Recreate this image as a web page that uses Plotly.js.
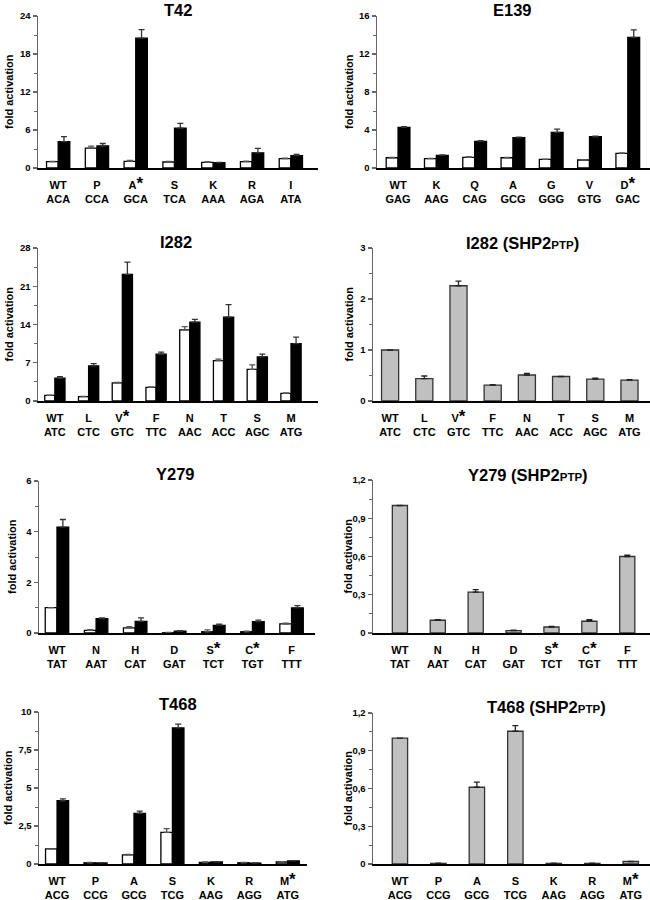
<!DOCTYPE html>
<html><head><meta charset="utf-8">
<script src="https://cdn.plot.ly/plotly-3.0.1.min.js"></script>
<style>html,body{margin:0;padding:0;background:#fff}#c{width:650px;height:900px}</style>
</head><body><div id="c"></div>
<script>
// ---- data ----
const t42Cats = ['WT','P','A*','S','K','R','I'];
const t42Codons = ['ACA','CCA','GCA','TCA','AAA','AGA','ATA'];
const t42White = [1.0, 3.15, 1.05, 0.95, 0.9, 1.0, 1.47];
const t42WhiteErr = [0.05, 0.3, 0.15, 0.1, 0.1, 0.1, 0.1];
const t42Black = [4.15, 3.47, 20.5, 6.3, 0.84, 2.4, 1.95];
const t42BlackErr = [0.8, 0.4, 1.35, 0.75, 0.05, 0.7, 0.2];

const e139Cats = ['WT','K','Q','A','G','V','D*'];
const e139Codons = ['GAG','AAG','CAG','GCG','GGG','GTG','GAC'];
const e139White = [1.08, 0.98, 1.12, 1.08, 0.91, 0.84, 1.54];
const e139WhiteErr = [0.03, 0.04, 0.08, 0.03, 0.03, 0.04, 0.06];
const e139Black = [4.27, 1.33, 2.8, 3.19, 3.75, 3.29, 13.76];
const e139BlackErr = [0.08, 0.05, 0.07, 0.05, 0.35, 0.05, 0.77];

const i282Cats = ['WT','L','V*','F','N','T','S','M'];
const i282Codons = ['ATC','CTC','GTC','TTC','AAC','ACC','AGC','ATG'];
const i282White = [1.04, 0.8, 3.3, 2.5, 13.0, 7.4, 5.8, 1.4];
const i282WhiteErr = [0.05, 0.05, 0.1, 0.1, 0.6, 0.25, 0.8, 0.1];
const i282Black = [4.16, 6.42, 23.17, 8.56, 14.43, 15.34, 8.07, 10.5];
const i282BlackErr = [0.3, 0.43, 2.26, 0.37, 0.5, 2.3, 0.5, 1.2];

const i282PtpValues = [1.0, 0.44, 2.26, 0.31, 0.51, 0.48, 0.43, 0.41];
const i282PtpErr = [0.0, 0.05, 0.09, 0.01, 0.03, 0.0, 0.02, 0.01];

const y279Cats = ['WT','N','H','D','S*','C*','F'];
const y279Codons = ['TAT','AAT','CAT','GAT','TCT','TGT','TTT'];
const y279White = [1.0, 0.1, 0.2, 0.01, 0.05, 0.05, 0.36];
const y279WhiteErr = [0.0, 0.03, 0.05, 0.01, 0.07, 0.02, 0.03];
const y279Black = [4.18, 0.57, 0.46, 0.07, 0.3, 0.45, 0.99];
const y279BlackErr = [0.3, 0.03, 0.14, 0.02, 0.05, 0.06, 0.09];

const y279PtpValues = [1.0, 0.1, 0.32, 0.018, 0.047, 0.092, 0.6];
const y279PtpErr = [0.0, 0.005, 0.02, 0.005, 0.005, 0.012, 0.01];

const t468Cats = ['WT','P','A','S','K','R','M*'];
const t468Codons = ['ACG','CCG','GCG','TCG','AAG','AGG','ATG'];
const t468White = [1.0, 0.08, 0.6, 2.08, 0.1, 0.08, 0.13];
const t468WhiteErr = [0.0, 0.02, 0.03, 0.25, 0.03, 0.02, 0.03];
const t468Black = [4.16, 0.07, 3.33, 8.95, 0.13, 0.06, 0.2];
const t468BlackErr = [0.12, 0.02, 0.15, 0.25, 0.03, 0.02, 0.02];

const t468PtpValues = [1.0, 0.005, 0.61, 1.055, 0.005, 0.005, 0.02];
const t468PtpErr = [0.0, 0.002, 0.04, 0.045, 0.002, 0.002, 0.0];

// ---- layout helpers ----
const W = 650, H = 900;
const FONT = 'Liberation Sans, Arial, sans-serif';
const data = [];
const layout = {
  width: W, height: H, margin: {l:0, r:0, t:0, b:0},
  paper_bgcolor: '#fff', plot_bgcolor: 'rgba(0,0,0,0)',
  showlegend: false, barmode: 'overlay', separators: ',.',
  font: {family: FONT, color: '#000'},
  annotations: []
};

function catLabel(c, codon) {
  const lab = c.replace('*', '<span style="font-size:17px">*</span>');
  return lab + '<br>' + codon;
}

function addPanel(n, p) {
  const xa = 'xaxis' + (n === 1 ? '' : n), ya = 'yaxis' + (n === 1 ? '' : n);
  const xr = 'x' + (n === 1 ? '' : n), yr = 'y' + (n === 1 ? '' : n);
  const idx = p.cats.map((_, i) => i);
  const errBase = {type: 'data', symmetric: false, color: '#000', thickness: 1.3, width: 3};
  if (p.gray) {
    data.push({type: 'bar', x: idx, y: p.gray, xaxis: xr, yaxis: yr, width: p.w,
      marker: {color: '#c0c0c0', line: {color: '#333', width: 1.3}},
      error_y: Object.assign({}, errBase, {array: p.grayErr, arrayminus: p.gray.map(() => 0), color: '#222'})});
  } else {
    data.push({type: 'bar', x: idx, y: p.white, xaxis: xr, yaxis: yr, width: p.w, offset: -p.w,
      marker: {color: '#fff', line: {color: '#000', width: 1.3}},
      error_y: Object.assign({}, errBase, {array: p.whiteErr, arrayminus: p.white.map(() => 0), color: '#555'})});
    data.push({type: 'bar', x: idx, y: p.black, xaxis: xr, yaxis: yr, width: p.w, offset: 0,
      marker: {color: '#000', line: {color: '#000', width: 1.3}},
      error_y: Object.assign({}, errBase, {array: p.blackErr, arrayminus: p.black.map(() => 0), color: '#333'})});
  }
  layout[xa] = {
    domain: [p.x0 / W, p.x1 / W], anchor: yr, range: p.xrange,
    tickmode: 'array', tickvals: idx, ticktext: p.cats.map((c, i) => catLabel(c, p.codons[i])),
    showline: true, linecolor: '#000', linewidth: 1.5, ticks: '', zeroline: false, showgrid: false,
    ticklabelstandoff: 6,
    tickfont: {family: FONT, size: 11, weight: 'bold', color: '#000'}, fixedrange: true
  };
  layout[ya] = {
    domain: [1 - p.y1 / H, 1 - p.y0 / H], anchor: xr, range: p.yrange,
    tickmode: 'linear', tick0: 0, dtick: p.dtick,
    showline: true, linecolor: '#666', linewidth: 1.5, ticks: 'outside', ticklen: 4, tickwidth: 1.2, tickcolor: '#666',
    zeroline: false, showgrid: false,
    minor: {dtick: p.dtick / 2, ticks: 'outside', ticklen: 3, tickwidth: 1, tickcolor: '#666', showgrid: false},
    tickfont: {family: FONT, size: 9.5, weight: 'bold', color: '#000'}, fixedrange: true
  };
  layout.annotations.push({
    xref: 'paper', yref: 'paper', x: p.tx / W, y: 1 - p.ty / H, xanchor: 'center', yanchor: 'middle',
    text: p.title, showarrow: false, font: {family: FONT, size: 16.5, weight: 'bold', color: '#000'}
  });
  layout.annotations.push({
    xref: 'paper', yref: 'paper', x: p.lx / W, y: 1 - ((p.y0 + p.y1) / 2) / H, xanchor: 'center', yanchor: 'middle',
    text: 'fold activation', textangle: -90, showarrow: false, font: {family: FONT, size: 11, weight: 'bold', color: '#000'}
  });
}

const PTP = 'SHP2<span style="font-size:11.5px">PTP</span>';

addPanel(1, {cats: t42Cats, codons: t42Codons, white: t42White, whiteErr: t42WhiteErr, black: t42Black, blackErr: t42BlackErr,
  w: 0.3, x0: 38, x1: 318, y0: 16, y1: 168, xrange: [-0.52, 6.7], yrange: [0, 24], dtick: 6, title: 'T42', tx: 178, ty: 10, lx: 9});
addPanel(2, {cats: e139Cats, codons: e139Codons, white: e139White, whiteErr: e139WhiteErr, black: e139Black, blackErr: e139BlackErr,
  w: 0.31, x0: 377, x1: 650, y0: 16, y1: 168, xrange: [-0.55, 6.58], yrange: [0, 16], dtick: 4, title: 'E139', tx: 512, ty: 10, lx: 349});
addPanel(3, {cats: i282Cats, codons: i282Codons, white: i282White, whiteErr: i282WhiteErr, black: i282Black, blackErr: i282BlackErr,
  w: 0.3, x0: 38, x1: 318, y0: 248, y1: 401, xrange: [-0.5, 7.8], yrange: [0, 28], dtick: 7, title: 'I282', tx: 176, ty: 242, lx: 9});
addPanel(4, {cats: i282Cats, codons: i282Codons, gray: i282PtpValues, grayErr: i282PtpErr,
  w: 0.5, x0: 373, x1: 650, y0: 248, y1: 401, xrange: [-0.5, 7.6], yrange: [0, 3], dtick: 1, title: 'I282 (' + PTP + ')', tx: 522, ty: 243, lx: 349});
addPanel(5, {cats: y279Cats, codons: y279Codons, white: y279White, whiteErr: y279WhiteErr, black: y279Black, blackErr: y279BlackErr,
  w: 0.3, x0: 39, x1: 315, y0: 481, y1: 633, xrange: [-0.46, 6.6], yrange: [0, 6], dtick: 2, title: 'Y279', tx: 175, ty: 474, lx: 12});
addPanel(6, {cats: y279Cats, codons: y279Codons, gray: y279PtpValues, grayErr: y279PtpErr,
  w: 0.4, x0: 373, x1: 650, y0: 480, y1: 633, xrange: [-0.71, 6.6], yrange: [0, 1.2], dtick: 0.3, title: 'Y279 (' + PTP + ')', tx: 528, ty: 475, lx: 347});
addPanel(7, {cats: t468Cats, codons: t468Codons, white: t468White, whiteErr: t468WhiteErr, black: t468Black, blackErr: t468BlackErr,
  w: 0.3, x0: 39, x1: 307, y0: 712, y1: 864, xrange: [-0.47, 6.5], yrange: [0, 10], dtick: 2.5, title: 'T468', tx: 178, ty: 704, lx: 8});
addPanel(8, {cats: t468Cats, codons: t468Codons, gray: t468PtpValues, grayErr: t468PtpErr,
  w: 0.4, x0: 373, x1: 650, y0: 713, y1: 864, xrange: [-0.7, 6.5], yrange: [0, 1.2], dtick: 0.3, title: 'T468 (' + PTP + ')', tx: 546, ty: 707, lx: 347});

Plotly.newPlot('c', data, layout, {staticPlot: true, displayModeBar: false});
</script></body></html>
